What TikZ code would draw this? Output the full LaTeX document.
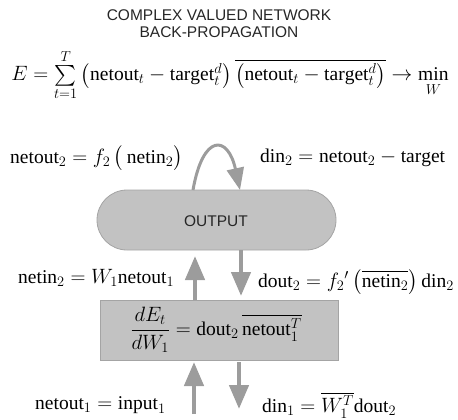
\documentclass[tikz,border=0pt]{standalone}
\usepackage{amsmath}
\usepackage{fontspec}
\setmainfont{Liberation Serif}
\setsansfont{Liberation Sans}
\usetikzlibrary{arrows.meta,calc}
\definecolor{arrowgray}{HTML}{9C9C9C}
\definecolor{boxfill}{HTML}{C2C2C2}
\definecolor{boxline}{HTML}{A4A4A4}
\definecolor{titlegray}{HTML}{262626}
\tikzset{
  titletext/.style={font=\sffamily\fontsize{15.5}{17}\selectfont, text=titlegray, inner sep=0pt},
  mathlbl/.style={font=\fontsize{19.5}{22}\selectfont, inner sep=0pt},
  bigarrow/.style={draw=arrowgray, line width=4.5pt, -{Triangle[length=24pt,width=19pt]}},
  arcarrow/.style={draw=arrowgray, line width=3pt, -{Triangle[length=22pt,width=17pt]}},
  capsule/.style={draw=boxline, fill=boxfill, rounded corners=30pt, line width=0.8pt},
  gradbox/.style={draw=boxline, fill=boxfill, line width=0.8pt},
}
\begin{document}
\begin{tikzpicture}[x=1pt,y=-1pt]
\useasboundingbox (0,0) rectangle (458,420);
% title
\node[titletext] (t1) at (219,15) {COMPLEX VALUED NETWORK};
\node[titletext] (t2) at (219,32) {BACK-PROPAGATION};
% error equation
\node[mathlbl] (err) at (230,75) {$E=\sum\limits_{t=1}^{T}\left(\mathrm{netout}_t-\mathrm{target}_t^{d}\right)\overline{\left(\mathrm{netout}_t-\mathrm{target}_t^{d}\right)}\to\min\limits_{W}$};
% output capsule
\path[capsule] (97,190) rectangle (336,250);
\node[font=\sffamily\fontsize{15.5}{17}\selectfont, text=titlegray, inner sep=0pt] (out) at (216,221) {OUTPUT};
% gradient box
\path[gradbox] (100,300) rectangle (338,360);
\node[mathlbl] (grad) at (216,330) {$\dfrac{dE_t}{dW_1}=\mathrm{dout}_2\,\overline{\mathrm{netout}_1^{T}}$};
% coordinates for connectors
\coordinate (arcS) at (193,190);
\coordinate (arcE) at (240,190);
\coordinate (u1s) at (195,300);
\coordinate (u1e) at (195,256);
\coordinate (d1s) at (241,250);
\coordinate (d1e) at (241,296);
\coordinate (u2s) at (194,414);
\coordinate (u2e) at (194,362);
\coordinate (d2s) at (239,362);
\coordinate (d2e) at (239,409);
% arrows
\draw[arcarrow] (arcS) .. controls (203,133) and (228,135) .. (arcE);
\draw[bigarrow] (u1s) -- (u1e);
\draw[bigarrow] (d1s) -- (d1e);
\draw[bigarrow] (u2s) -- (u2e);
\draw[bigarrow] (d2s) -- (d2e);
% labels
\node[mathlbl, anchor=west] (l1) at (10,158) {$\mathrm{netout}_2=f_2\,\bigl(\,\mathrm{netin}_2\bigr)$};
\node[mathlbl, anchor=west] (l2) at (260,158) {$\mathrm{din}_2=\mathrm{netout}_2-\mathrm{target}$};
\node[mathlbl, anchor=west] (l3) at (18,278) {$\mathrm{netin}_2=W_1\mathrm{netout}_1$};
\node[mathlbl, anchor=west] (l4) at (258,282) {$\mathrm{dout}_2=f_2{}'\left(\overline{\mathrm{netin}_2}\right)\mathrm{din}_2$};
\node[mathlbl, anchor=west] (l5) at (35,405) {$\mathrm{netout}_1=\mathrm{input}_1$};
\node[mathlbl, anchor=west] (l6) at (262,405) {$\mathrm{din}_1=\overline{W_1^{T}}\mathrm{dout}_2$};
\end{tikzpicture}
\end{document}
